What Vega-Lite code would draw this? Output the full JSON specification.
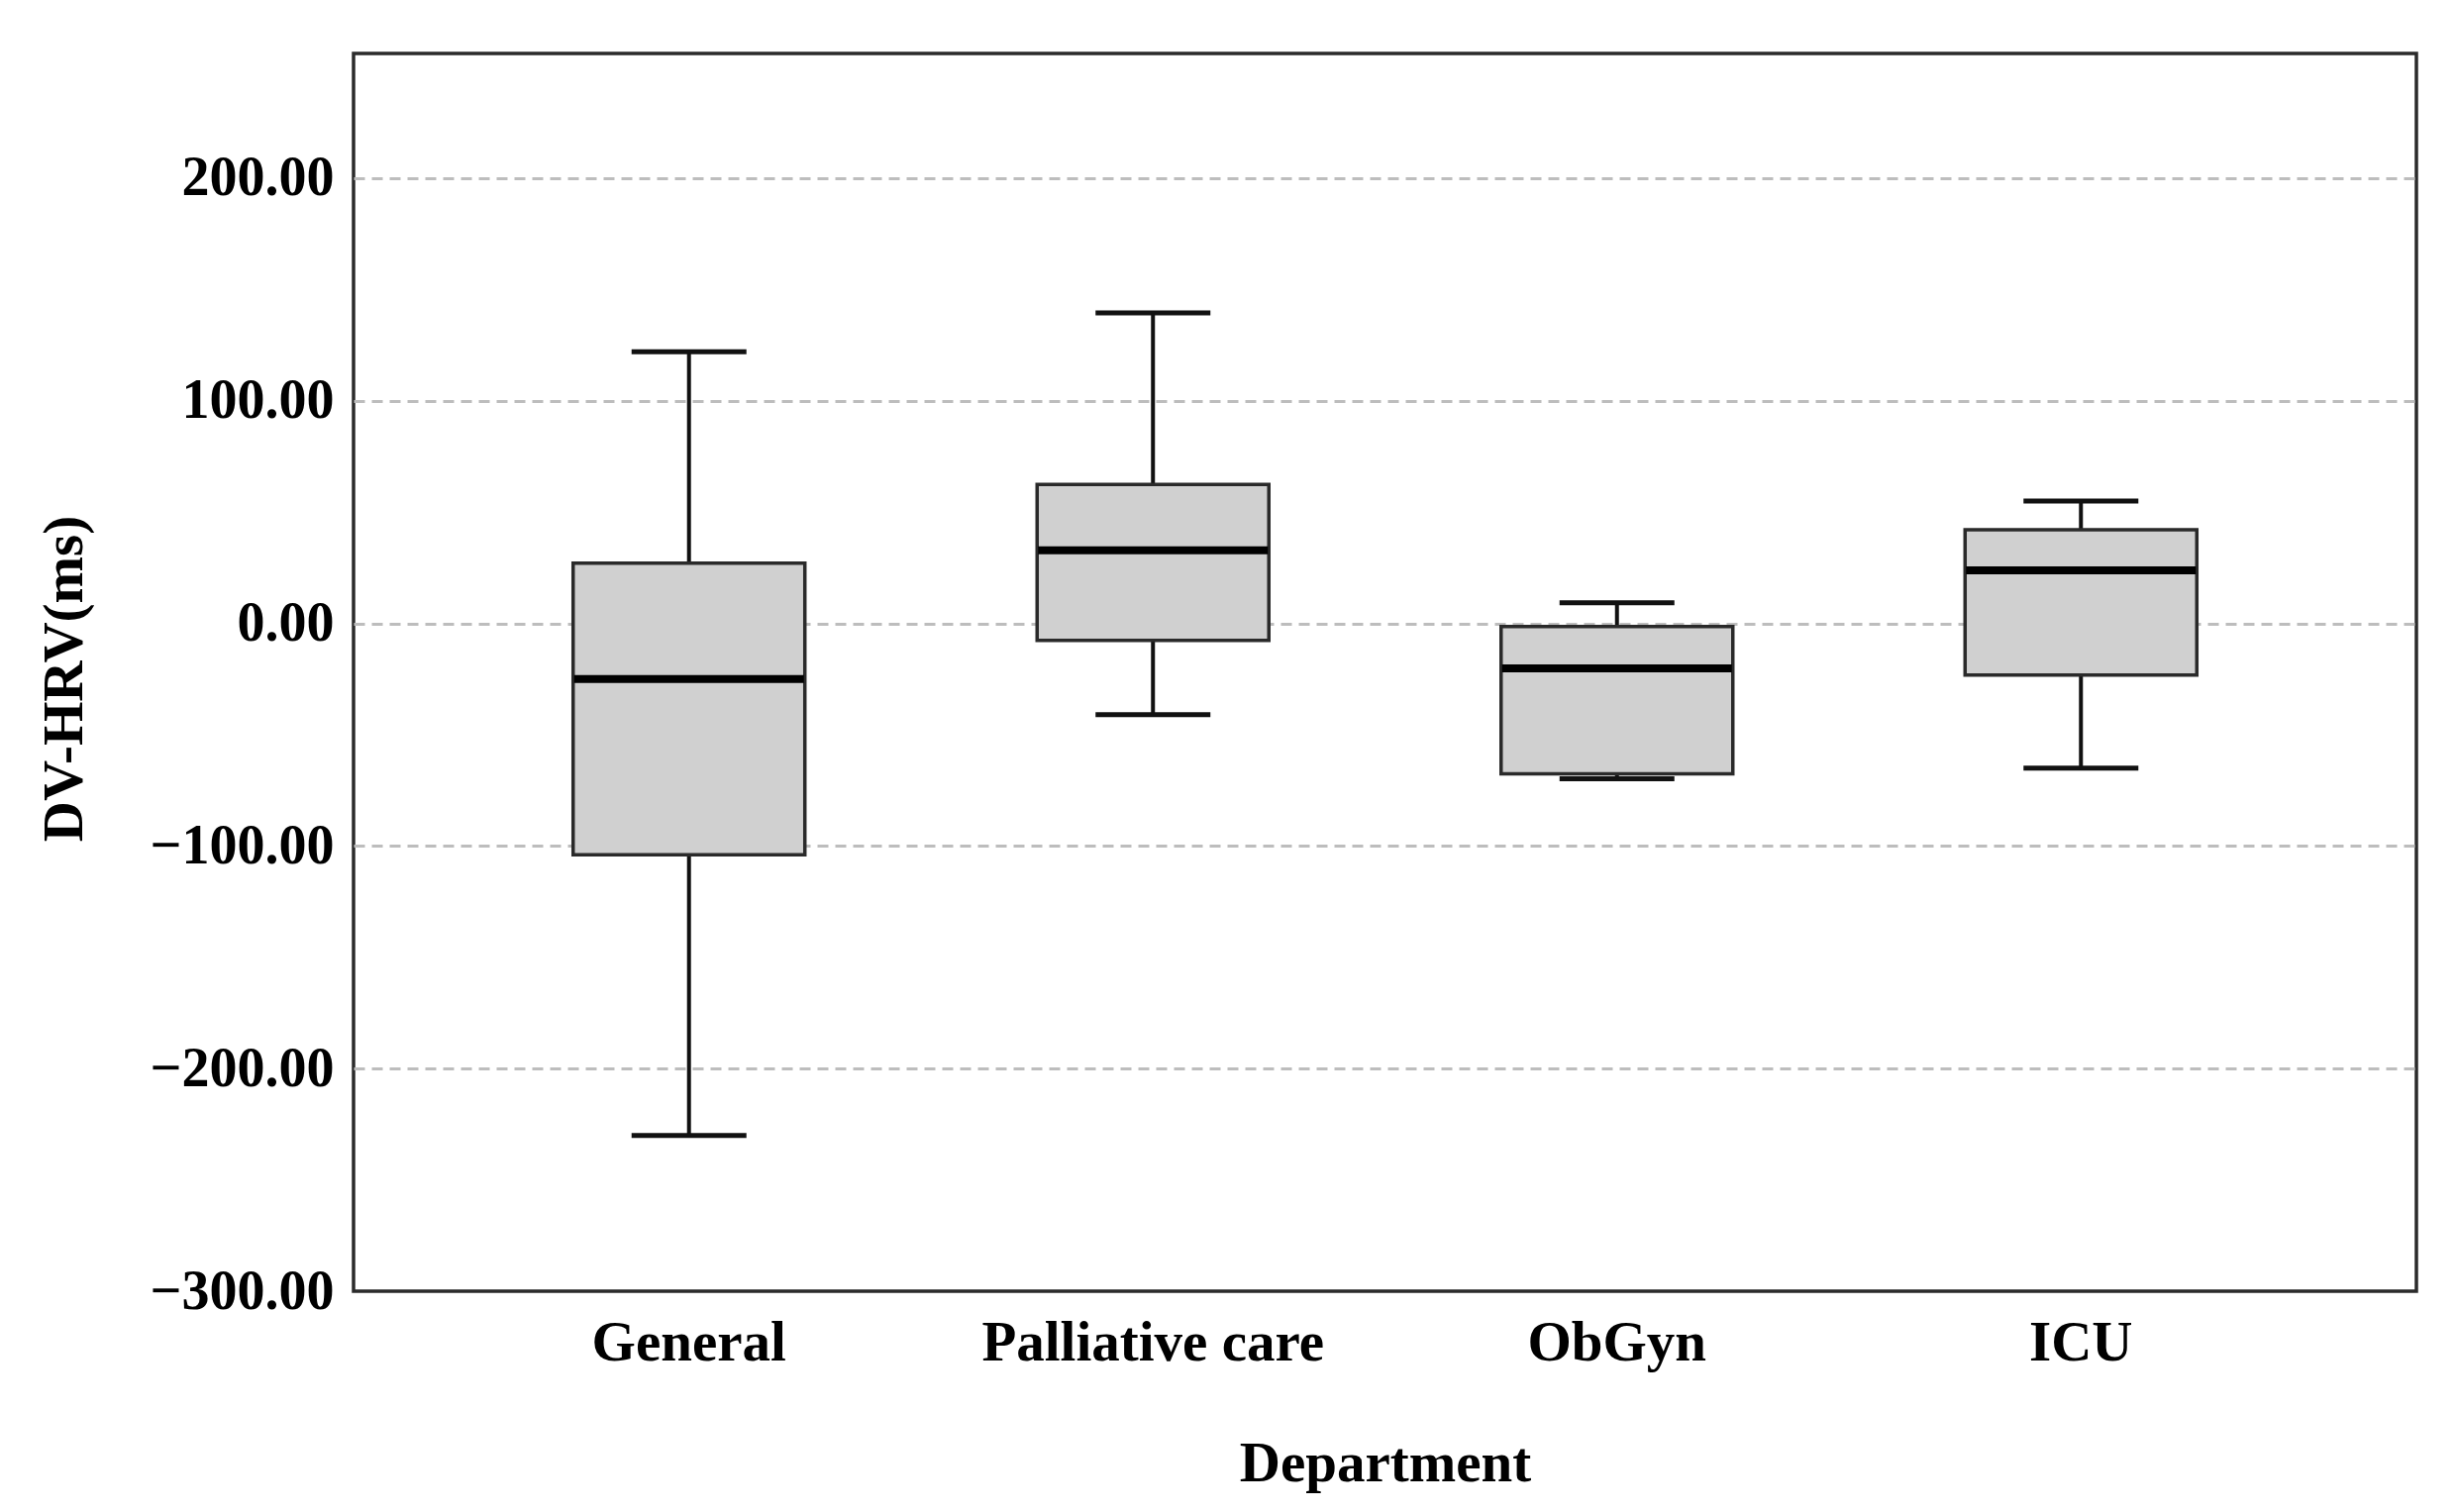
{
  "$schema": "https://vega.github.io/schema/vega-lite/v6.json",
  "autosize": {"type": "none"},
  "width": 2083,
  "height": 1250,
  "padding": {"left": 357, "top": 54, "right": 41, "bottom": 223},
  "background": "white",
  "config": {
    "view": {"stroke": "#2b2b2b", "strokeWidth": 3.5, "fill": "white"},
    "font": "Liberation Serif"
  },
  "data": {
    "values": [
      {"dept": "General", "lower": -230, "q1": -104, "median": -25, "q3": 27, "upper": 122},
      {"dept": "Palliative care", "lower": -41, "q1": -7.6, "median": 32.8, "q3": 62.4, "upper": 139.5},
      {"dept": "ObGyn", "lower": -69.8, "q1": -67.6, "median": -20.2, "q3": -1.4, "upper": 9.2},
      {"dept": "ICU", "lower": -65, "q1": -23.2, "median": 23.8, "q3": 42, "upper": 55}
    ]
  },
  "encoding": {
    "x": {
      "field": "dept",
      "type": "nominal",
      "sort": null,
      "scale": {"paddingInner": 0, "paddingOuter": 0.223},
      "axis": {
        "title": "Department",
        "labelAngle": 0,
        "labelLimit": 0,
        "ticks": false,
        "domain": false,
        "grid": false,
        "labelFont": "Liberation Serif",
        "labelFontSize": 57,
        "labelFontWeight": "bold",
        "labelColor": "#000",
        "labelPadding": 24,
        "titleFont": "Liberation Serif",
        "titleFontSize": 57,
        "titleFontWeight": "bold",
        "titleColor": "#000",
        "titleY": 191,
        "titleBaseline": "alphabetic"
      }
    }
  },
  "layer": [
    {
      "mark": {"type": "rule", "color": "#111", "strokeWidth": 4},
      "encoding": {
        "y": {
          "field": "lower",
          "type": "quantitative",
          "scale": {"domain": [-300, 256], "nice": false, "zero": false},
          "axis": {
            "title": "DV-HRV(ms)",
            "values": [-300, -200, -100, 0, 100, 200],
            "format": ".2f",
            "labelLimit": 0,
            "ticks": false,
            "domain": false,
            "grid": true,
            "gridDash": [11, 7],
            "gridColor": "#bdbdbd",
            "gridWidth": 3,
            "gridOpacity": {"condition": {"test": "datum.value === -300", "value": 0}, "value": 1},
            "labelFont": "Liberation Serif",
            "labelFontSize": 56,
            "labelFontWeight": "bold",
            "labelColor": "#000",
            "labelPadding": 20,
            "titleFont": "Liberation Serif",
            "titleFontSize": 57,
            "titleFontWeight": "bold",
            "titleColor": "#000",
            "titleX": -275,
            "titleY": 631,
            "titleAlign": "center",
            "titleBaseline": "alphabetic",
            "titleAngle": -90
          }
        },
        "y2": {"field": "q1"}
      }
    },
    {
      "mark": {"type": "rule", "color": "#111", "strokeWidth": 4},
      "encoding": {
        "y": {"field": "q3", "type": "quantitative"},
        "y2": {"field": "upper"}
      }
    },
    {
      "mark": {"type": "tick", "color": "#111", "size": 116, "thickness": 5, "opacity": 1},
      "encoding": {"y": {"field": "lower", "type": "quantitative"}}
    },
    {
      "mark": {"type": "tick", "color": "#111", "size": 116, "thickness": 5, "opacity": 1},
      "encoding": {"y": {"field": "upper", "type": "quantitative"}}
    },
    {
      "mark": {"type": "bar", "size": 234, "fill": "#d0d0d0", "stroke": "#2a2a2a", "strokeWidth": 3.5},
      "encoding": {
        "y": {"field": "q1", "type": "quantitative"},
        "y2": {"field": "q3"}
      }
    },
    {
      "mark": {"type": "tick", "color": "#000", "size": 232, "thickness": 8, "opacity": 1},
      "encoding": {"y": {"field": "median", "type": "quantitative"}}
    }
  ]
}
